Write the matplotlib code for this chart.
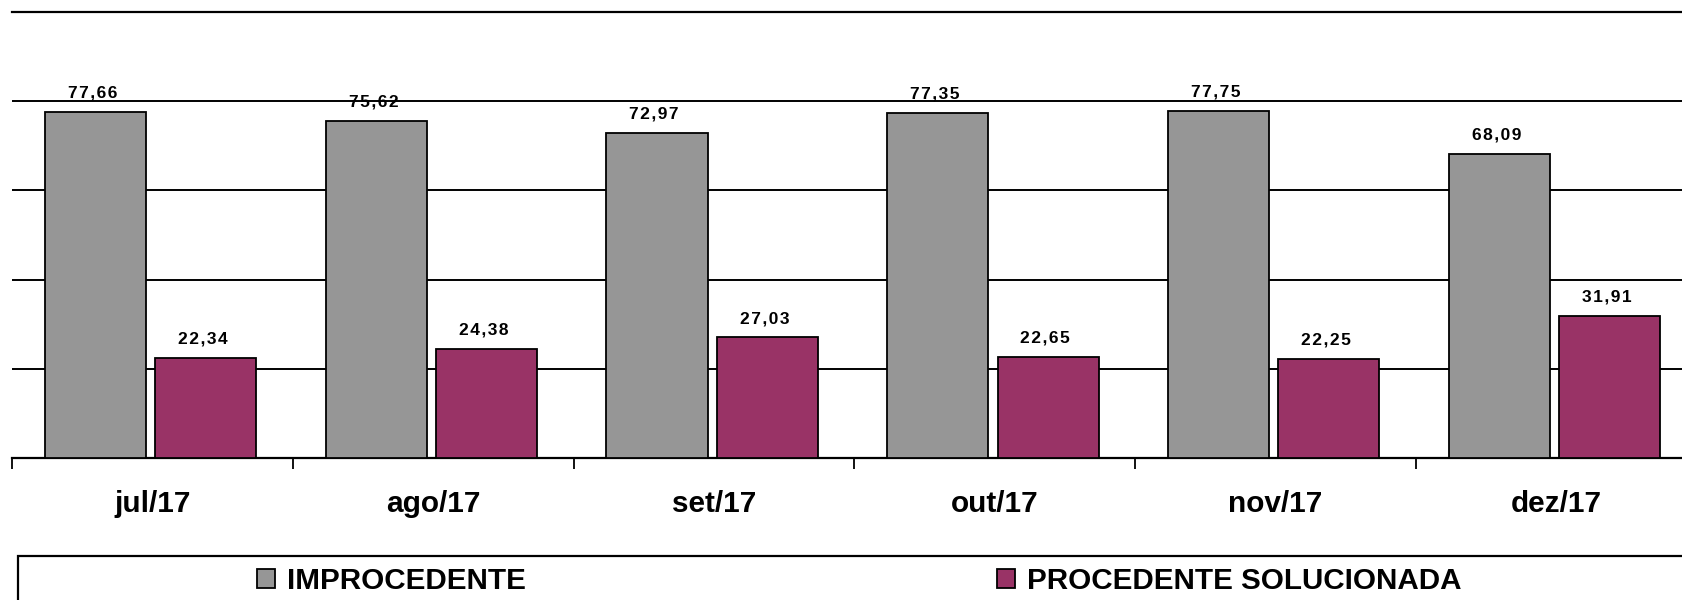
import matplotlib
matplotlib.use("Agg")
import matplotlib.pyplot as plt
from matplotlib.patches import Rectangle
import numpy as np

categories = ["jul/17", "ago/17", "set/17", "out/17", "nov/17", "dez/17"]
improcedente = [77.66, 75.62, 72.97, 77.35, 77.75, 68.09]
procedente = [22.34, 24.38, 27.03, 22.65, 22.25, 31.91]
series_names = ["IMPROCEDENTE", "PROCEDENTE SOLUCIONADA"]
colors = ["#969696", "#993366"]

plt.rcParams['font.family'] = ['Liberation Sans', 'DejaVu Sans']

W, H = 1683, 600
fig = plt.figure(figsize=(W / 100, H / 100), dpi=100)
ax = fig.add_axes([12 / W, 142 / H, 6 * 280.8 / W, 446 / H])

x = np.arange(len(categories))
bw = 0.36
b1 = ax.bar(x - 0.203, improcedente, bw, color=colors[0], edgecolor="black",
            linewidth=1.3, zorder=3, label=series_names[0])
b2 = ax.bar(x + 0.19, procedente, bw, color=colors[1], edgecolor="black",
            linewidth=1.3, zorder=3, label=series_names[1])

def fmt(v):
    s = f"{v:.2f}".replace(".", ",")
    return "\u200a".join(s)

for bars, vals in ((b1, improcedente), (b2, procedente)):
    for r, v in zip(bars, vals):
        ax.annotate(fmt(v), (r.get_x() + r.get_width() / 2 - 0.01, v),
                    xytext=(0, 10.4), textcoords="offset points",
                    ha="center", va="baseline", fontsize=12.5,
                    fontweight="bold", color="black", zorder=4)

ax.set_xlim(-0.5, len(categories) - 0.5)
ax.set_ylim(0, 100)
ax.set_yticks([20, 40, 60, 80, 100])
ax.yaxis.grid(True, color="black", linewidth=1.4, zorder=0)
ax.tick_params(axis="y", left=False, labelleft=False)

ax.set_xticks(np.arange(len(categories) + 1) - 0.5)
ax.set_xticklabels([])
ax.set_xticks(x, minor=True)
ax.set_xticklabels(categories, minor=True, fontsize=21.4, fontweight="bold")
ax.tick_params(axis="x", which="major", direction="out", length=7.9,
               width=1.3, color="black")
ax.tick_params(axis="x", which="minor", length=0, pad=23)

for s in ("left", "right"):
    ax.spines[s].set_visible(False)
ax.spines["bottom"].set_linewidth(1.6)
ax.spines["top"].set_linewidth(1.6)
ax.set_axisbelow(True)

# legend frame
fig.patches.append(Rectangle((18 / W, -0.05), 1.1, (600 - 556) / H + 0.05,
                             transform=fig.transFigure, fill=False,
                             edgecolor="black", linewidth=1.6))
leg = fig.legend(handles=[b1, b2], labels=series_names, ncol=2,
                 loc="center left", bbox_to_anchor=(257 / W, 1 - 581 / H),
                 frameon=False, prop={"weight": "bold", "size": 21.3},
                 handlelength=0.6, handleheight=0.62, handletextpad=0.4,
                 columnspacing=15.95, borderpad=0, borderaxespad=0)

fig.savefig("out.png", dpi=100)
